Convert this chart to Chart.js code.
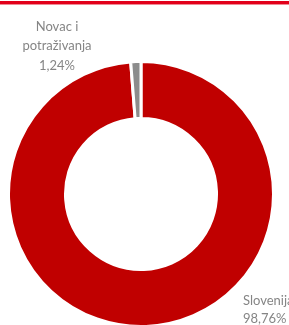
<!DOCTYPE html>
<html lang="hr">
  <head>
    <meta charset="UTF-8" />
    <title>Struktura ulaganja</title>
    <script src="https://cdn.jsdelivr.net/npm/chart.js"></script>
    <style>
      body {
        margin: 0;
        padding: 0;
        background: #fff;
      }
      .wrap {
        position: relative;
        width: 289px;
        height: 325px;
        overflow: hidden;
      }
      .topline {
        position: absolute;
        left: 0;
        top: 1px;
        width: 289px;
        height: 3px;
        background: #e2001a;
        border-bottom: 1px solid #f08a94;
        z-index: 1;
      }
      canvas {
        position: absolute;
        left: 0;
        top: 0;
      }
    </style>
  </head>
  <body>
    <div class="wrap">
      <div class="topline"></div>
      <canvas id="pie" width="289" height="328"></canvas>
    </div>

    <script>
      // values
      const categories = ["Slovenija", "Novac i potraživanja"];
      const shares = [98.76, 1.24];
      const shareLabels = ["98,76%", "1,24%"];
      const sliceColors = ["#c00000", "#8c8c8c"];

      // draws the outside labels next to each slice
      const outsideLabels = {
        id: "outsideLabels",
        afterDraw(chart) {
          const ctx = chart.ctx;
          const arcs = chart.getDatasetMeta(0).data;
          ctx.save();
          ctx.font = "13px Lato";
          ctx.fillStyle = "#858585";
          ctx.textBaseline = "alphabetic";

          // small slice: label up and to the left
          const a1 = arcs[1];
          const x1 = a1.x - 84;
          const y1 = a1.y - a1.outerRadius - 31;
          ctx.textAlign = "center";
          ["Novac i", "potraživanja", shareLabels[1]].forEach((t, i) => {
            ctx.fillText(t, x1, y1 + i * 19.5);
          });

          // big slice: label at the bottom right
          const a0 = arcs[0];
          const x0 = a0.x + 102;
          const y0 = a0.y + 111;
          ctx.textAlign = "left";
          [categories[0], shareLabels[0]].forEach((t, i) => {
            ctx.fillText(t, x0, y0 + i * 18);
          });
          ctx.restore();
        },
      };

      new Chart(document.getElementById("pie"), {
        type: "doughnut",
        data: {
          labels: categories,
          datasets: [
            {
              data: shares,
              backgroundColor: sliceColors,
              borderColor: "#fff",
              borderWidth: 3,
            },
          ],
        },
        options: {
          responsive: false,
          animation: false,
          cutout: "57%",
          layout: {
            padding: { left: 7, top: 60, right: 14, bottom: 0 },
          },
          plugins: {
            legend: { display: false },
            tooltip: { enabled: false },
          },
        },
        plugins: [outsideLabels],
      });
    </script>
  </body>
</html>
